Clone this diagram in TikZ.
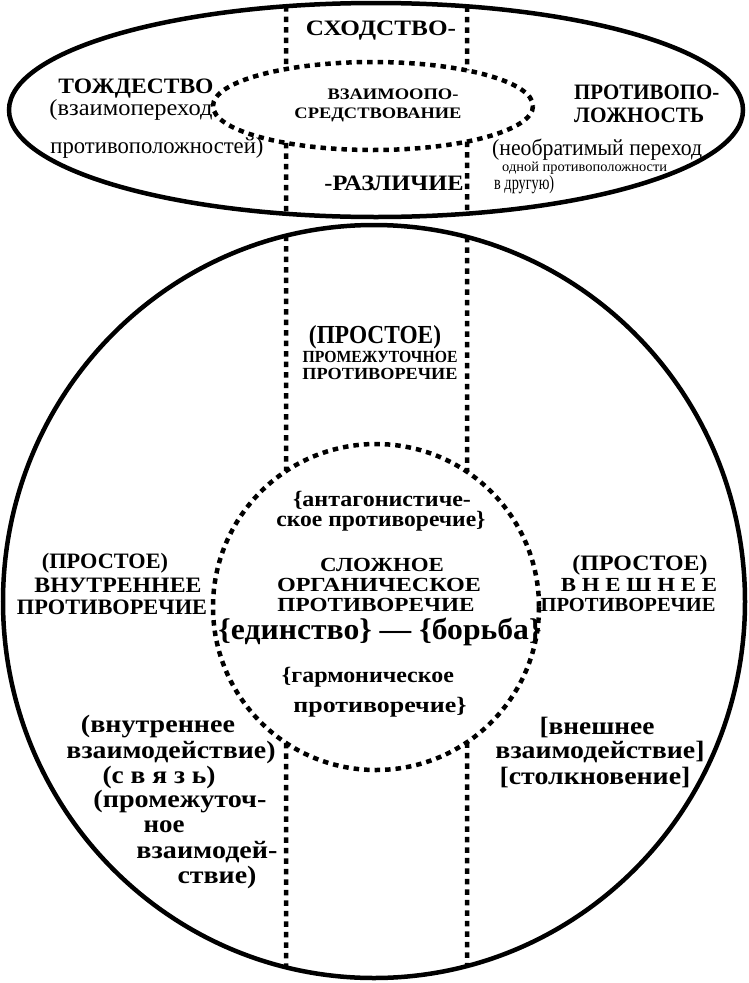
\documentclass[tikz,border=0pt]{standalone}
\usepackage{fontspec}
\setmainfont{Liberation Serif}
\usepackage{graphicx}
\usetikzlibrary{intersections}

% squeeze or stretch a line to a given width
\newcommand{\fitw}[2]{\resizebox{#1pt}{\height}{#2}}

\tikzset{
  rim/.style={line width=4.5pt},
  dotln/.style={line width=4.5pt, dash pattern=on 5.5pt off 5pt},
  lbl/.style={inner sep=0pt, font=\fontsize{22}{22}\selectfont\bfseries},
  tightcap/.style={inner sep=0pt, font=\fontsize{20}{20}\selectfont\bfseries},
  plain/.style={inner sep=0pt, font=\fontsize{23}{23}\selectfont},
  midcap/.style={inner sep=0pt, font=\fontsize{16}{16}\selectfont\bfseries},
  bandcap/.style={inner sep=0pt, font=\fontsize{17}{17}\selectfont\bfseries},
  smalltxt/.style={inner sep=0pt, font=\fontsize{14}{14}\selectfont},
  lowtxt/.style={inner sep=0pt, font=\fontsize{25}{25}\selectfont\bfseries},
}

\begin{document}
\begin{tikzpicture}[x=1pt,y=-1pt]
    \useasboundingbox (0,0) rectangle (748,983);
    % Draw outlines
    \draw[rim, name path=topell] (376,110) ellipse [x radius=367, y radius=107];
    \draw[rim, name path=bigell] (374,601.5) ellipse [x radius=371, y radius=376.5];
    \draw[dotln, name path=topin] (373,106) ellipse [x radius=160, y radius=44];
    \draw[dotln, name path=incirc] (376,607) circle [radius=163];
    % Draw the two dotted bands
    \foreach \xx in {286,467} {
        \path[name path=vl] (\xx,-20) -- (\xx,1000);
        \path[name intersections={of=vl and topell, sort by=vl, by={ta,tb}}];
        \path[name intersections={of=vl and topin, sort by=vl, by={ia,ib}}];
        \path[name intersections={of=vl and bigell, sort by=vl, by={ba,bb}}];
        \path[name intersections={of=vl and incirc, sort by=vl, by={ca,cb}}];
        \draw[dotln] (ta) -- (ia) (ib) -- (tb) (ba) -- (ca) (cb) -- (bb);
    }

    % Upper oval
    \node[lbl] (simil) at (381,31) {\fitw{150}{СХОДСТВО-}};
    \node[lbl] (ident) at (136,89) {\fitw{155}{ТОЖДЕСТВО}};
    \node[plain] (identA) at (131,110) {\fitw{163}{(взаимопереход}};
    \node[plain] (identB) at (157,148) {\fitw{213}{противоположностей)}};
    \node[midcap] (mediA) at (393,94) {\fitw{131}{ВЗАИМООПО-}};
    \node[midcap] (mediB) at (378,115) {\fitw{167}{СРЕДСТВОВАНИЕ}};
    \node[lbl] (diff) at (394,183) {\fitw{139}{-РАЗЛИЧИЕ}};
    \node[lbl, anchor=west] (oppoA) at (574,92) {\fitw{145}{ПРОТИВОПО-}};
    \node[lbl, anchor=west] (oppoB) at (574,115) {\fitw{130}{ЛОЖНОСТЬ}};
    \node[plain, anchor=west] (oppoC) at (492,150) {\fitw{210}{(необратимый переход}};
    \node[smalltxt, anchor=west] (oppoD) at (502,168) {\fitw{165}{одной противоположности}};
    \node[plain, anchor=west, font=\fontsize{20}{20}\selectfont] (oppoE) at (494,185) {\fitw{60}{в другую)}};

    % Middle band
    \node[lowtxt, font=\fontsize{26}{26}\selectfont\bfseries] (midA) at (375,337) {\fitw{132}{(ПРОСТОЕ)}};
    \node[bandcap] (midB) at (380,357) {\fitw{155}{ПРОМЕЖУТОЧНОЕ}};
    \node[bandcap] (midC) at (380,374) {\fitw{155}{ПРОТИВОРЕЧИЕ}};

    % Inner circle
    \node[lbl] (antA) at (382,500) {\fitw{178}{\{антагонистиче-}};
    \node[lbl] (antB) at (381,521) {\fitw{209}{ское противоречие\}}};
    \node[tightcap] (compA) at (382,565) {\fitw{124}{СЛОЖНОЕ}};
    \node[tightcap] (compB) at (379,585) {\fitw{204}{ОРГАНИЧЕСКОЕ}};
    \node[tightcap] (compC) at (376,605) {\fitw{197}{ПРОТИВОРЕЧИЕ}};
    \node[inner sep=0pt, font=\fontsize{30}{30}\selectfont\bfseries] (unity)
        at (380,632) {\fitw{323}{\{единство\} — \{борьба\}}};
    \node[lbl] (harmA) at (368,677) {\fitw{172}{\{гармоническое}};
    \node[lbl] (harmB) at (380,707) {\fitw{173}{противоречие\}}};

    % Left and right of the circle
    \node[lbl] (inA) at (105,563) {\fitw{126}{(ПРОСТОЕ)}};
    \node[lbl] (inB) at (118,585) {\fitw{167}{ВНУТРЕННЕЕ}};
    \node[lbl] (inC) at (112,607) {\fitw{190}{ПРОТИВОРЕЧИЕ}};
    \node[lbl] (exA) at (640,565) {\fitw{135}{(ПРОСТОЕ)}};
    \node[tightcap] (exB) at (639,585) {\fitw{156}{В Н Е Ш Н Е Е}};
    \node[tightcap] (exC) at (628,605) {\fitw{175}{ПРОТИВОРЕЧИЕ}};

    % Lower left
    \node[lowtxt] (intA) at (158,727) {\fitw{154}{(внутреннее}};
    \node[lowtxt] (intB) at (171,752) {\fitw{209}{взаимодействие)}};
    \node[lowtxt] (intC) at (159,777) {\fitw{113}{(с в я з ь)}};
    \node[lowtxt] (intD) at (180,802) {\fitw{173}{(промежуточ-}};
    \node[lowtxt] (intE) at (164,827) {\fitw{41}{ное}};
    \node[lowtxt] (intF) at (207,852) {\fitw{141}{взаимодей-}};
    \node[lowtxt] (intG) at (217,877) {\fitw{79}{ствие)}};
    % Lower right
    \node[lowtxt] (extA) at (597,727) {\fitw{115}{[внешнее}};
    \node[lowtxt] (extB) at (600,752) {\fitw{209}{взаимодействие]}};
    \node[lowtxt] (extC) at (595,777) {\fitw{191}{[столкновение]}};
\end{tikzpicture}
\end{document}
